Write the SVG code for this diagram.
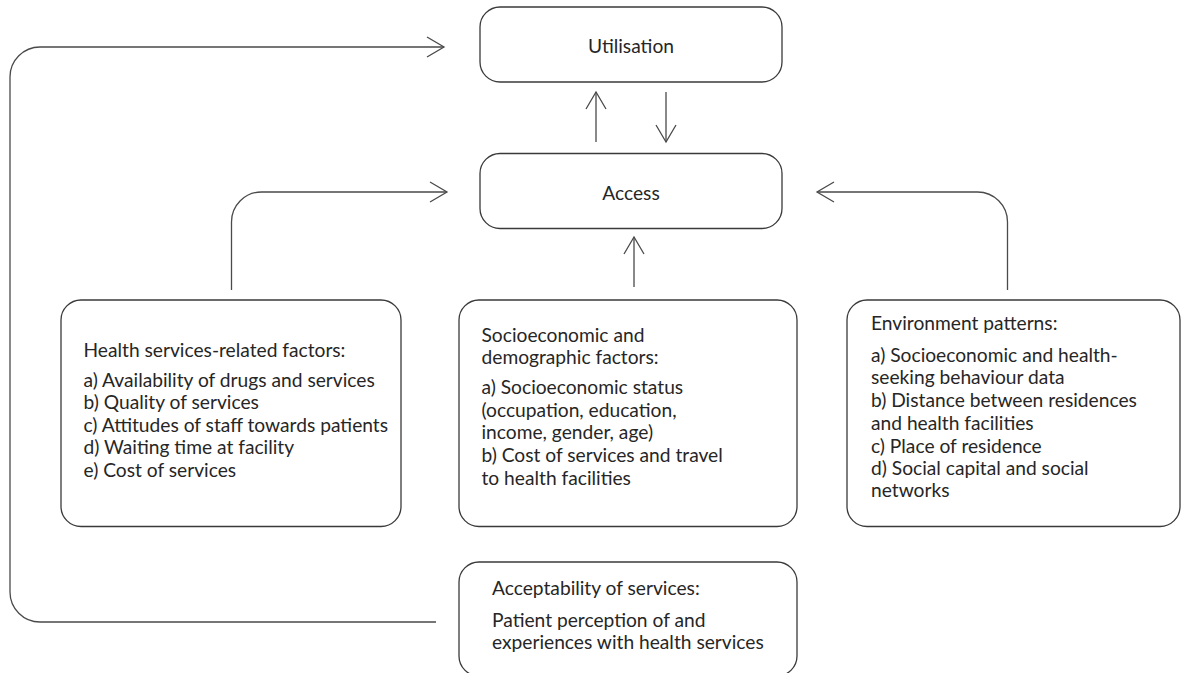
<svg xmlns="http://www.w3.org/2000/svg" width="1184" height="673" viewBox="0 0 1184 673">
<defs>
<style>
.box{fill:#fff;stroke:#3a3a3a;stroke-width:1.3}
.ln{fill:none;stroke:#4a4a4a;stroke-width:1.3}
text{font-family:Lato,"Open Sans","Liberation Sans",sans-serif;font-size:19.2px;fill:#262626}
</style>
<marker id="ah" markerUnits="userSpaceOnUse" viewBox="-19 -12 21 24" refX="0" refY="0" markerWidth="21" markerHeight="24" orient="auto">
<path d="M-17,-10 L0,0 L-17,10" fill="none" stroke="#4a4a4a" stroke-width="1.3"/>
</marker>
</defs>
<rect width="1184" height="673" fill="#fff"/>
<g id="connectors">
<path class="ln" d="M436,622 H40 A30,30 0 0 1 10,592 V77 A30,30 0 0 1 40,47 H444" marker-end="url(#ah)"/>
<path class="ln" d="M231.5,290 V222 A30,30 0 0 1 261.5,192 H447" marker-end="url(#ah)"/>
<path class="ln" d="M1007.5,290 V222 A30,30 0 0 0 977.5,192 H817" marker-end="url(#ah)"/>
<path class="ln" d="M596,142 V92" marker-end="url(#ah)"/>
<path class="ln" d="M666,92 V142" marker-end="url(#ah)"/>
<path class="ln" d="M634,287 V237" marker-end="url(#ah)"/>
</g>
<g id="utilisation">
<rect class="box" x="480" y="7" width="302" height="75" rx="20"/>
<text x="631" y="53" text-anchor="middle">Utilisation</text>
</g>
<g id="access">
<rect class="box" x="480" y="153.5" width="302" height="75" rx="20"/>
<text x="631" y="200" text-anchor="middle">Access</text>
</g>
<g id="health">
<rect class="box" x="61" y="300" width="340" height="226.5" rx="20"/>
<text x="83.5" y="357">Health services-related factors:</text>
<text x="83.5" y="387">a) Availability of drugs and services</text>
<text x="83.5" y="409">b) Quality of services</text>
<text x="83.5" y="432">c) Attitudes of staff towards patients</text>
<text x="83.5" y="454">d) Waiting time at facility</text>
<text x="83.5" y="477">e) Cost of services</text>
</g>
<g id="socio">
<rect class="box" x="459" y="300" width="338" height="226.5" rx="20"/>
<text x="481.5" y="342">Socioeconomic and</text>
<text x="481.5" y="363.5">demographic factors:</text>
<text x="481.5" y="393.5">a) Socioeconomic status</text>
<text x="481.5" y="416.5">(occupation, education,</text>
<text x="481.5" y="438.5">income, gender, age)</text>
<text x="481.5" y="461.5">b) Cost of services and travel</text>
<text x="481.5" y="485">to health facilities</text>
</g>
<g id="environment">
<rect class="box" x="847" y="300" width="333" height="226.5" rx="20"/>
<text x="871" y="330">Environment patterns:</text>
<text x="871" y="362">a) Socioeconomic and health-</text>
<text x="871" y="383.5">seeking behaviour data</text>
<text x="871" y="406.5">b) Distance between residences</text>
<text x="871" y="429.5">and health facilities</text>
<text x="871" y="452.5">c) Place of residence</text>
<text x="871" y="475">d) Social capital and social</text>
<text x="871" y="497">networks</text>
</g>
<g id="acceptability">
<rect class="box" x="459" y="562" width="338" height="114" rx="20"/>
<text x="492" y="595">Acceptability of services:</text>
<text x="492" y="627">Patient perception of and</text>
<text x="492" y="648.5">experiences with health services</text>
</g>
</svg>
